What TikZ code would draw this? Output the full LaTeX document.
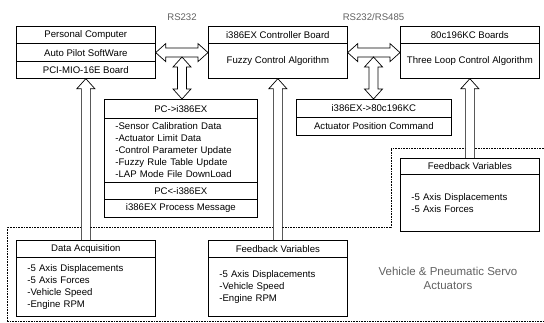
\documentclass[tikz,border=0pt]{standalone}
\usepackage{fontspec}
\setmainfont{Liberation Sans}
\usetikzlibrary{calc}
\newcommand\hollowup[2]{%
  \draw[arrowline] let \p1=#1, \p2=#2 in
   (\x1-4.5pt,\y1) -- (\x1-4.5pt,\y2-10pt) -- (\x1-9pt,\y2-10pt) -- (\x1,\y2)
   -- (\x1+9pt,\y2-10pt) -- (\x1+4.5pt,\y2-10pt) -- (\x1+4.5pt,\y1);}
\newcommand\hollowvv[2]{%
  \draw[arrowline] let \p1=#1, \p2=#2 in
   (\x1,\y1) -- (\x1-9pt,\y1+10pt) -- (\x1-4.5pt,\y1+10pt) -- (\x1-4.5pt,\y2-10pt)
   -- (\x1-9pt,\y2-10pt) -- (\x1,\y2) -- (\x1+9pt,\y2-10pt) -- (\x1+4.5pt,\y2-10pt)
   -- (\x1+4.5pt,\y1+10pt) -- (\x1+9pt,\y1+10pt) -- cycle;}
\newcommand\hollowhh[2]{%
  \draw[arrowline] let \p1=#1, \p2=#2 in
   (\x1,\y1) -- (\x1+10pt,\y1+9pt) -- (\x1+10pt,\y1+4.5pt) -- (\x2-10pt,\y1+4.5pt)
   -- (\x2-10pt,\y1+9pt) -- (\x2,\y1) -- (\x2-10pt,\y1-9pt) -- (\x2-10pt,\y1-4.5pt)
   -- (\x1+10pt,\y1-4.5pt) -- (\x1+10pt,\y1-9pt) -- cycle;}
\begin{document}
\begin{tikzpicture}[x=1pt,y=-1pt,
  txt/.style={font=\fontsize{9.6}{12}\selectfont},
  box/.style={txt, draw, line width=0.7pt, inner sep=0pt, anchor=north west},
  wA/.style={minimum width=139pt},
  wB/.style={minimum width=153pt},
  wC/.style={minimum width=155pt},
  listA/.style={box, align=left, text width=117pt, inner xsep=11pt},
  listB/.style={box, align=left, text width=131pt, inner xsep=11pt},
  arrowline/.style={draw, fill=white, line width=0.7pt, line join=miter},
  bound/.style={line width=0.6pt, densely dotted},
  gray label/.style={text=black!62, inner sep=0pt}]
\useasboundingbox (0,0) rectangle (544,323);

% dotted boundary
\draw[bound] (544,148) -- (391,148) -- (391,227) -- (7,227) -- (7,321.5) -- (544,321.5);

% Personal computer
\node[box, wA, minimum height=17.5pt] (pc1) at (16,26) {Personal Computer};
\node[box, wA, minimum height=17.5pt] (pc2) at (16,43.5) {Auto Pilot SoftWare};
\node[box, wA, minimum height=17pt] (pc3) at (16,61) {PCI-MIO-16E Board};

% i386EX
\node[box, wA, minimum height=17pt] (ib1) at (208,26) {i386EX Controller Board};
\node[box, wA, minimum height=35pt] (ib2) at (208,43) {Fuzzy Control Algorithm};

% 80c196KC
\node[box, wA, minimum height=17pt] (kb1) at (400,26) {80c196KC Boards};
\node[box, wA, minimum height=35pt] (kb2) at (400,43) {Three Loop Control Algorithm};

% PC <-> i386EX messages
\node[box, wB, minimum height=19pt] (m1) at (104,99) {PC->i386EX};
\node[listB, minimum height=64pt] (m2) at (104,118) {-Sensor Calibration Data\\-Actuator Limit Data\\-Control Parameter Update\\-Fuzzy Rule Table Update\\-LAP Mode File DownLoad};
\node[box, wB, minimum height=17pt] (m3) at (104,182) {PC<-i386EX};
\node[box, wB, minimum height=18pt] (m4) at (104,199) {i386EX Process Message};

% i386EX -> 80c196KC
\node[box, wC, minimum height=18pt] (n1) at (296,99) {i386EX->80c196KC};
\node[box, wC, minimum height=18pt] (n2) at (296,117) {Actuator Position Command};

% Feedback right
\node[box, wA, minimum height=16pt] (f1) at (400,158) {Feedback Variables};
\node[listA, minimum height=57pt] (f2) at (400,174) {-5 Axis Displacements\\-5 Axis Forces};

% Data acquisition
\node[box, wA, minimum height=17pt] (d1) at (16,240) {Data Acquisition};
\node[listA, minimum height=59pt] (d2) at (16,257) {-5 Axis Displacements\\-5 Axis Forces\\-Vehicle Speed\\-Engine RPM};

% Feedback middle
\node[box, wA, minimum height=17pt] (g1) at (208,240) {Feedback Variables};
\node[listA, minimum height=59pt] (g2) at (208,257) {-5 Axis Displacements\\-Vehicle Speed\\-Engine RPM};

% labels
\node[txt, gray label] (rs1) at (182,17) {RS232};
\node[txt, gray label] (rs2) at (373.5,17) {RS232/RS485};
\node[gray label, font=\fontsize{11.5}{13.5}\selectfont, align=center] (veh) at (448,278.5) {Vehicle \& Pneumatic Servo\\Actuators};

% connectors
\coordinate (t1) at (182,57);
\coordinate (t2) at (373.5,57);
\hollowup{(d1.north)}{(pc3.south)}
\hollowup{(g1.north)}{(ib2.south)}
\hollowup{(f1.north)}{(kb2.south)}
\hollowhh{(pc2.east)}{(ib2.west)}
\hollowhh{(ib2.east |- pc2.east)}{(kb2.west)}
\hollowvv{(m1.north -| t1)}{(t1)}
\hollowvv{(n1.north -| t2)}{(t2)}
\end{tikzpicture}
\end{document}
